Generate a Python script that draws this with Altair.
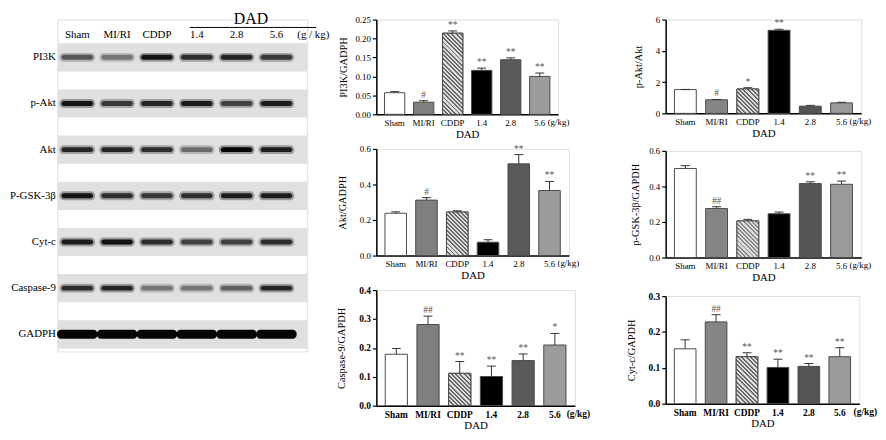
import math
import altair as alt
import pandas as pd

FONT = "Liberation Serif"

# ---------------- data ----------------
groups = ["Sham", "MI/RI", "CDDP", "1.4", "2.8", "5.6"]
x_title = "DAD"
unit_label = "(g/kg)"
blot_unit = "(g / kg)"

proteins = ["PI3K", "p-Akt", "Akt", "P-GSK-3β", "Cyt-c", "Caspase-9", "GADPH"]
band_pi3k = [0.60, 0.45, 0.95, 0.80, 0.85, 0.75]
band_pakt = [0.95, 0.75, 0.85, 0.90, 0.70, 0.90]
band_akt = [0.85, 0.85, 0.80, 0.50, 1.00, 0.90]
band_gsk = [0.95, 0.80, 0.75, 0.80, 0.90, 0.90]
band_cytc = [0.90, 0.95, 0.80, 0.70, 0.70, 0.80]
band_casp = [0.80, 0.85, 0.45, 0.45, 0.55, 0.85]
band_gapdh = [1.00, 1.00, 1.00, 1.00, 1.00, 1.00]

pi3k_mean = [0.057, 0.032, 0.214, 0.116, 0.144, 0.100]
pi3k_err = [0.003, 0.004, 0.006, 0.006, 0.005, 0.009]
pi3k_sig = ["", "#", "**", "**", "**", "**"]
pi3k_ticks = [0, 0.05, 0.10, 0.15, 0.20, 0.25]

pakt_mean = [1.52, 0.87, 1.56, 5.31, 0.46, 0.67]
pakt_err = [0.01, 0.02, 0.08, 0.07, 0.05, 0.04]
pakt_sig = ["", "#", "*", "**", "", ""]
pakt_ticks = [0, 2, 4, 6]

akt_mean = [0.238, 0.312, 0.245, 0.075, 0.516, 0.366]
akt_err = [0.008, 0.014, 0.007, 0.014, 0.052, 0.051]
akt_sig = ["", "#", "", "", "**", "**"]
akt_ticks = [0, 0.2, 0.4, 0.6]

gsk_mean = [0.501, 0.276, 0.206, 0.246, 0.416, 0.412]
gsk_err = [0.016, 0.010, 0.009, 0.010, 0.010, 0.018]
gsk_sig = ["", "##", "", "", "**", "**"]
gsk_ticks = [0, 0.2, 0.4, 0.6]

casp_mean = [0.178, 0.281, 0.112, 0.101, 0.156, 0.210]
casp_err = [0.020, 0.029, 0.041, 0.036, 0.023, 0.040]
casp_sig = ["", "##", "**", "**", "**", "*"]
casp_ticks = [0, 0.1, 0.2, 0.3, 0.4]

cytc_mean = [0.153, 0.228, 0.131, 0.101, 0.104, 0.131]
cytc_err = [0.025, 0.020, 0.011, 0.023, 0.008, 0.025]
cytc_sig = ["", "##", "**", "**", "**", "**"]
cytc_ticks = [0, 0.1, 0.2, 0.3]


# ---------------- helpers ----------------
def hatch_fill(w, h, light, dark, period=3.0):
    k = (w + h) / (h + w * w / h)
    n = max(4, int(round((w + h) / (math.sqrt(2) * period))))
    stops = []
    for i in range(n):
        a = i / n
        b = (i + 0.45) / n
        c = (i + 1) / n
        stops += [
            alt.GradientStop(offset=a, color=dark),
            alt.GradientStop(offset=b, color=dark),
            alt.GradientStop(offset=b, color=light),
            alt.GradientStop(offset=min(c, 1.0), color=light),
        ]
    return alt.LinearGradient(gradient="linear", stops=stops,
                              x1=0, y1=1, x2=k * w / h, y2=1 - k)


def bar_panel(means, errs, sigs, ticks, ytitle, fmt, width, height, fills,
              bold=False, gkg_dx=8, gkg_dy=0, ytitle_pad=4, hatch_dark="#6a6a6a"):
    tops = [round(m + e, 4) for m, e in zip(means, errs)]
    df = pd.DataFrame({"group": groups, "mean": means, "top": tops, "sig": sigs})
    weight = "bold" if bold else "normal"
    lsize = 9.5 if bold else 9
    pi, po = 0.3, 0.28
    ymax = ticks[-1]
    xs = alt.Scale(domain=groups, paddingInner=pi, paddingOuter=po)
    xaxis = alt.Axis(title=x_title, labelAngle=0, ticks=False, tickSize=0,
                     domainColor="black", domainWidth=1.5,
                     labelFont=FONT, labelFontSize=lsize, labelFontWeight=weight,
                     labelColor="black", labelPadding=4,
                     titleFont=FONT, titleFontSize=11, titleFontWeight="normal",
                     titleColor="black", titlePadding=1)
    x = alt.X("group:N", sort=groups, scale=xs, axis=xaxis)
    ys = alt.Scale(domain=[0, ymax], nice=False, zero=True)
    yaxis = alt.Axis(title=ytitle, values=ticks, format=fmt, grid=False,
                     labelOverlap=False, labelFlush=False, tickCount=len(ticks),
                     tickSize=4, tickColor="black", tickWidth=1.2,
                     domainColor="black", domainWidth=1.5,
                     labelFont=FONT, labelFontSize=lsize, labelFontWeight=weight,
                     labelColor="black", labelPadding=2,
                     titleFont=FONT, titleFontSize=10.5, titleFontWeight="normal",
                     titleColor="black", titlePadding=ytitle_pad)

    def Y(field):
        return alt.Y(field, scale=ys, axis=yaxis, title=ytitle)

    base = alt.Chart(df).encode(x=x)
    bars = base.mark_bar(stroke="#4a4a4a", strokeWidth=1).encode(
        y=Y("mean:Q"),
        color=alt.Color("group:N", scale=alt.Scale(domain=groups, range=fills), legend=None),
    )
    step = width / (len(groups) - pi + 2 * po)
    bw = step * (1 - pi)
    h = max(means[2] / ymax * height, bw)
    hatch = base.transform_filter(alt.datum.group == "CDDP").mark_bar(
        fill=hatch_fill(bw, h, "#dcdcdc", hatch_dark), stroke="#4a4a4a", strokeWidth=1
    ).encode(y=Y("mean:Q"))
    rule = base.mark_rule(color="#333333", strokeWidth=1).encode(
        y=Y("mean:Q"), y2="top:Q")
    cap = base.mark_tick(orient="horizontal", color="#333333", thickness=1, size=9,
                         opacity=1).encode(y=Y("top:Q"))
    sig = base.mark_text(font=FONT, fontSize=9.5, color="#555555", baseline="bottom",
                         dy=-1).encode(y=Y("top:Q"), text="sig:N")
    gkg = base.transform_filter(alt.datum.group == "5.6").mark_text(
        font=FONT, fontSize=lsize, fontWeight=weight, align="left", baseline="top",
        dx=gkg_dx, color="black"
    ).encode(y=alt.value(height + 4 + gkg_dy), text=alt.value(unit_label))
    return alt.layer(bars, hatch, rule, cap, sig, gkg).properties(width=width, height=height)


# ---------------- western blot panel ----------------
band_rows = [band_pi3k, band_pakt, band_akt, band_gsk, band_cytc, band_casp, band_gapdh]
blot_records = []
for p, row in zip(proteins, band_rows):
    for g, v in zip(groups, row):
        blot_records.append({"protein": p, "lane": g, "intensity": v})
blot_df = pd.DataFrame(blot_records)
mem_df = pd.DataFrame({"protein": proteins})
lane_df = pd.DataFrame({"lane": groups})

BW, BH = 253, 336
yb = alt.Y("protein:N", sort=proteins,
           scale=alt.Scale(domain=proteins, range=[24, 333], paddingInner=0.39, paddingOuter=0),
           axis=alt.Axis(title=None, ticks=False, domain=False, labelFont=FONT,
                         labelFontSize=11, labelColor="black", labelPadding=2, labelLimit=0))
xb = alt.X("lane:N", sort=groups,
           scale=alt.Scale(domain=groups, range=[0, 242], paddingInner=0, paddingOuter=0),
           axis=None)
band_color = alt.Color("intensity:Q",
                       scale=alt.Scale(domain=[0, 1], range=["#e0e0e0", "#050505"]),
                       legend=None)

membrane = alt.Chart(mem_df).mark_rect(fill="#e0e0e0", opacity=1).encode(
    y=yb, x=alt.value(0), x2=alt.value(BW))
halo = alt.Chart(blot_df).transform_filter(alt.datum.protein != "GADPH").mark_tick(
    orient="horizontal", thickness=9, size=36, cornerRadius=4, opacity=0.35).encode(
    x=xb, y=alt.Y("protein:N", sort=proteins), color=band_color)
bands = alt.Chart(blot_df).transform_filter(alt.datum.protein != "GADPH").mark_tick(
    orient="horizontal", thickness=5, size=32, cornerRadius=2.5, opacity=1).encode(
    x=xb, y=alt.Y("protein:N", sort=proteins), color=band_color)
gapdh = alt.Chart(blot_df).transform_filter(alt.datum.protein == "GADPH").mark_tick(
    orient="horizontal", thickness=9, size=41, cornerRadius=4, opacity=1).encode(
    x=xb, y=alt.Y("protein:N", sort=proteins), color=band_color)
lane_text = alt.Chart(lane_df).mark_text(font=FONT, fontSize=11, baseline="middle",
                                         color="black").encode(
    x=xb, y=alt.value(16), text="lane:N")
dad_text = alt.Chart(pd.DataFrame({"t": [x_title]})).mark_text(
    font=FONT, fontSize=16, baseline="middle", color="black").encode(
    x=alt.value(196), y=alt.value(0), text="t:N")
dad_line = alt.Chart(pd.DataFrame({"t": [x_title]})).mark_rule(color="black", strokeWidth=1).encode(
    x=alt.value(134), x2=alt.value(262), y=alt.value(8))
unit_text = alt.Chart(pd.DataFrame({"t": [blot_unit]})).mark_text(
    font=FONT, fontSize=11, baseline="middle", align="left", color="black").encode(
    x=alt.value(243), y=alt.value(16), text="t:N")

blot = alt.layer(membrane, halo, bands, gapdh, lane_text, dad_text, dad_line, unit_text).properties(
    width=BW, height=BH)

# ---------------- bar panels ----------------
c1 = bar_panel(pi3k_mean, pi3k_err, pi3k_sig, pi3k_ticks, "PI3K/GADPH", ".2f", 184, 96,
               ["#ffffff", "#7f7f7f", "#b0b0b0", "#000000", "#5a5a5a", "#9c9c9c"], ytitle_pad=6)
c3 = bar_panel(akt_mean, akt_err, akt_sig, akt_ticks, "Akt/GADPH", ".1f", 195, 108,
               ["#ffffff", "#8a8a8a", "#b0b0b0", "#000000", "#5a5a5a", "#a5a5a5"], ytitle_pad=12)
c5 = bar_panel(casp_mean, casp_err, casp_sig, casp_ticks, "Caspase-9/GAPDH", ".1f", 201, 117,
               ["#ffffff", "#a3a3a3", "#b0b0b0", "#000000", "#666666", "#b3b3b3"], bold=True,
               gkg_dx=12, gkg_dy=-1, ytitle_pad=12)
c2 = bar_panel(pakt_mean, pakt_err, pakt_sig, pakt_ticks, "p-Akt/Akt", "d", 198, 95,
               ["#ffffff", "#858585", "#b0b0b0", "#000000", "#555555", "#9a9a9a"], ytitle_pad=12)
c4 = bar_panel(gsk_mean, gsk_err, gsk_sig, gsk_ticks, "p-GSK-3β/GAPDH", ".1f", 198, 108,
               ["#ffffff", "#a6a6a6", "#c8c8c8", "#000000", "#666666", "#d6d6d6"], ytitle_pad=8,
               hatch_dark="#8a8a8a")
c6 = bar_panel(cytc_mean, cytc_err, cytc_sig, cytc_ticks, "Cyt-c/GAPDH", ".1f", 196, 109,
               ["#ffffff", "#a8a8a8", "#b0b0b0", "#000000", "#6a6a6a", "#b5b5b5"], bold=True,
               gkg_dx=14, gkg_dy=-1, ytitle_pad=12)

mid = alt.vconcat(c1, c3, c5, spacing=3)
right = alt.vconcat(c2, c4, c6, spacing=7)

chart = alt.hconcat(alt.hconcat(blot, mid, spacing=6), right, spacing=34).properties(
    padding=0).configure_view(stroke=None, fill="white").configure(background="white", font=FONT)

chart.save("out.html", embed_options={"renderer": "svg", "actions": False})
